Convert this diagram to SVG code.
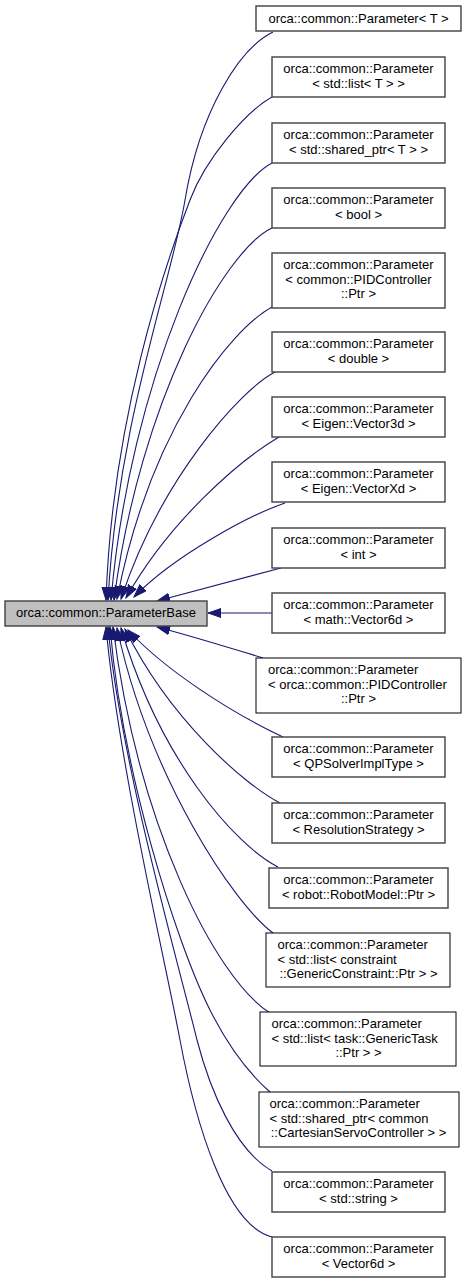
<svg xmlns="http://www.w3.org/2000/svg" width="467" height="1283" viewBox="0 0 467 1283">
<style>
  .bg { fill: #ffffff; }
  .node rect { fill: #ffffff; stroke: #404040; stroke-width: 1.4; }
  .node.doc rect { stroke: #000000; stroke-width: 1; }
  .node.base rect { fill: #bfbfbf; }
  text { font-family: "Liberation Sans", Arial, Helvetica, sans-serif; font-size: 13px; fill: #000000; }
  .c { text-anchor: middle; }
  .l { text-anchor: start; }
  #edges path { fill: none; stroke: #191970; stroke-width: 1.1; marker-end: url(#arr); }
</style>
<defs>
  <marker id="arr" markerUnits="userSpaceOnUse" markerWidth="15" markerHeight="11" refX="13" refY="5" orient="auto">
    <path d="M0,0.5 L13,5 L0,9.5 Z" fill="#191970" stroke="#191970" stroke-width="1"/>
  </marker>
</defs>
<rect class="bg" x="0" y="0" width="467" height="1283"/>

<g id="edges">
  <path d="M273,32 C240,48 200,110 185,200 C172,280 118,420 108,600"/>
  <path d="M272,97 C245,112 205,160 190,200 C165,265 112,420 106,600"/>
  <path d="M272,163 C220,190 130,380 111,600"/>
  <path d="M272,228 C225,250 140,400 114,600"/>
  <path d="M272,307 C230,330 150,430 117,599"/>
  <path d="M275,372 C240,390 160,480 121,599"/>
  <path d="M279,437 C240,460 170,520 126,598"/>
  <path d="M285,503 C250,515 175,555 134,597"/>
  <path d="M281,568 L157,601"/>
  <path d="M272,613 L208,613"/>
  <path d="M263,658 C230,648 195,637 157,627"/>
  <path d="M283,737 C230,712 165,670 128,630"/>
  <path d="M280,803 C245,785 170,720 125,629"/>
  <path d="M278,867 C235,845 160,760 121,628"/>
  <path d="M273,933 C235,905 150,780 117,628"/>
  <path d="M270,1013 C215,978 138,825 113,627"/>
  <path d="M270,1092 C245,1070 225,1040 210,1010 C175,940 122,770 110,627"/>
  <path d="M272,1171 C235,1150 210,1090 197,1040 C180,970 120,760 108,627"/>
  <path d="M272,1237 C225,1225 195,1120 180,1040 C165,960 118,760 106,627"/>
</g>

<g id="ParameterBase" class="node base">
  <rect x="5" y="601" width="202" height="25"/>
  <text class="c" x="106" y="617">orca::common::ParameterBase</text>
</g>

<g id="n1" class="node">
  <rect x="256" y="6" width="205" height="25"/>
  <text class="c" x="358.5" y="22.5">orca::common::Parameter&lt; T &gt;</text>
</g>
<g id="n2" class="node">
  <rect x="272" y="57" width="173" height="40"/>
  <text class="c" x="358.5" y="73">orca::common::Parameter</text>
  <text class="c" x="358.5" y="87.5">&lt; std::list&lt; T &gt; &gt;</text>
</g>
<g id="n3" class="node">
  <rect x="272" y="123" width="173" height="40"/>
  <text class="c" x="358.5" y="139">orca::common::Parameter</text>
  <text class="c" x="358.5" y="153.5">&lt; std::shared_ptr&lt; T &gt; &gt;</text>
</g>
<g id="n4" class="node">
  <rect x="272" y="188" width="173" height="40"/>
  <text class="c" x="358.5" y="204">orca::common::Parameter</text>
  <text class="c" x="358.5" y="218.5">&lt; bool &gt;</text>
</g>
<g id="n5" class="node">
  <rect x="272" y="253" width="173" height="55"/>
  <text class="c" x="358.5" y="269">orca::common::Parameter</text>
  <text class="c" x="358.5" y="283.5">&lt; common::PIDController</text>
  <text class="c" x="358.5" y="298">::Ptr &gt;</text>
</g>
<g id="n6" class="node">
  <rect x="272" y="332" width="173" height="40"/>
  <text class="c" x="358.5" y="348">orca::common::Parameter</text>
  <text class="c" x="358.5" y="362.5">&lt; double &gt;</text>
</g>
<g id="n7" class="node">
  <rect x="272" y="397" width="173" height="40"/>
  <text class="c" x="358.5" y="413">orca::common::Parameter</text>
  <text class="c" x="358.5" y="427.5">&lt; Eigen::Vector3d &gt;</text>
</g>
<g id="n8" class="node">
  <rect x="272" y="462" width="173" height="40"/>
  <text class="c" x="358.5" y="478">orca::common::Parameter</text>
  <text class="c" x="358.5" y="492.5">&lt; Eigen::VectorXd &gt;</text>
</g>
<g id="n9" class="node">
  <rect x="272" y="528" width="173" height="40"/>
  <text class="c" x="358.5" y="544">orca::common::Parameter</text>
  <text class="c" x="358.5" y="558.5">&lt; int &gt;</text>
</g>
<g id="n10" class="node">
  <rect x="272" y="593" width="173" height="40"/>
  <text class="c" x="358.5" y="609">orca::common::Parameter</text>
  <text class="c" x="358.5" y="623.5">&lt; math::Vector6d &gt;</text>
</g>
<g id="n11" class="node doc">
  <rect x="256" y="658" width="205" height="55"/>
  <text class="l" x="268" y="674">orca::common::Parameter</text>
  <text class="l" x="268" y="688.5">&lt; orca::common::PIDController</text>
  <text class="c" x="358.5" y="703">::Ptr &gt;</text>
</g>
<g id="n12" class="node">
  <rect x="272" y="737" width="173" height="40"/>
  <text class="c" x="358.5" y="753">orca::common::Parameter</text>
  <text class="c" x="358.5" y="767.5">&lt; QPSolverImplType &gt;</text>
</g>
<g id="n13" class="node">
  <rect x="272" y="803" width="173" height="40"/>
  <text class="c" x="358.5" y="819">orca::common::Parameter</text>
  <text class="c" x="358.5" y="833.5">&lt; ResolutionStrategy &gt;</text>
</g>
<g id="n14" class="node">
  <rect x="269" y="868" width="179" height="40"/>
  <text class="c" x="358.5" y="884">orca::common::Parameter</text>
  <text class="c" x="358.5" y="898.5">&lt; robot::RobotModel::Ptr &gt;</text>
</g>
<g id="n15" class="node doc">
  <rect x="266" y="933" width="184" height="54"/>
  <text class="l" x="277.5" y="949">orca::common::Parameter</text>
  <text class="l" x="277.5" y="963.5">&lt; std::list&lt; constraint</text>
  <text class="c" x="358.5" y="978">::GenericConstraint::Ptr &gt; &gt;</text>
</g>
<g id="n16" class="node doc">
  <rect x="260" y="1012" width="196" height="54"/>
  <text class="l" x="271.5" y="1028">orca::common::Parameter</text>
  <text class="l" x="271.5" y="1042.5">&lt; std::list&lt; task::GenericTask</text>
  <text class="c" x="358.5" y="1057">::Ptr &gt; &gt;</text>
</g>
<g id="n17" class="node doc">
  <rect x="259" y="1092" width="200" height="55"/>
  <text class="l" x="269.5" y="1108">orca::common::Parameter</text>
  <text class="l" x="269.5" y="1122.5">&lt; std::shared_ptr&lt; common</text>
  <text class="c" x="358.5" y="1137">::CartesianServoController &gt; &gt;</text>
</g>
<g id="n18" class="node">
  <rect x="272" y="1172" width="173" height="40"/>
  <text class="c" x="358.5" y="1188">orca::common::Parameter</text>
  <text class="c" x="358.5" y="1202.5">&lt; std::string &gt;</text>
</g>
<g id="n19" class="node">
  <rect x="272" y="1237" width="173" height="40"/>
  <text class="c" x="358.5" y="1253">orca::common::Parameter</text>
  <text class="c" x="358.5" y="1267.5">&lt; Vector6d &gt;</text>
</g>
</svg>
